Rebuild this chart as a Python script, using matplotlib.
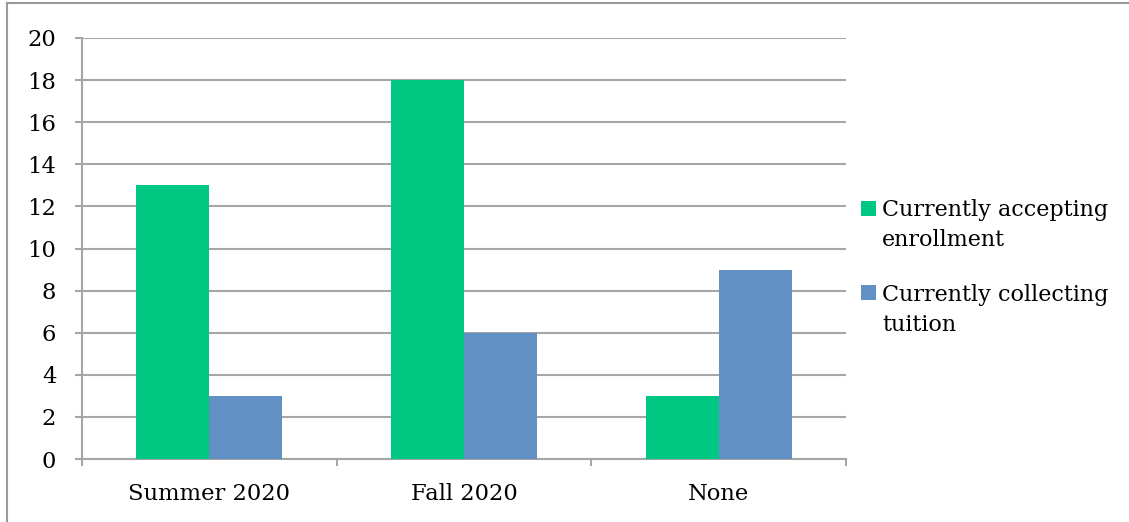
import matplotlib
matplotlib.use("Agg")
import matplotlib.pyplot as plt
from matplotlib.lines import Line2D
from matplotlib.patches import Rectangle
import numpy as np

categories = ["Summer 2020", "Fall 2020", "None"]
series_names = ["Currently accepting\nenrollment", "Currently collecting\ntuition"]
accepting = [13, 18, 3]
collecting = [3, 6, 9]
colors = ["#00C882", "#6191C4"]
grid_color = "#A6A6A6"

plt.rcParams['font.family'] = ['DejaVu Serif']
fs = 16.3

W, H = 1129, 522
fig = plt.figure(figsize=(W/100, H/100), dpi=100)
ax = fig.add_axes([82/W, 1-459/H, (846-82)/W, (459-38)/H])

x = np.arange(len(categories))
w = 0.287
ax.bar(x - w/2, accepting, w, color=colors[0], zorder=3, label=series_names[0])
ax.bar(x + w/2, collecting, w, color=colors[1], zorder=3, label=series_names[1])

ax.set_xlim(-0.5, 2.5)
ax.set_ylim(0, 20)
ax.set_yticks(range(0, 21, 2))
ax.yaxis.grid(True, color=grid_color, linewidth=1.5, zorder=0)
ax.set_axisbelow(True)

for s in ["top", "right"]:
    ax.spines[s].set_visible(False)
for s in ["left", "bottom"]:
    ax.spines[s].set_color(grid_color)
    ax.spines[s].set_linewidth(1.5)

ax.set_xticks([-0.5, 0.5, 1.5, 2.5])
ax.set_xticklabels([])
ax.set_xticks(x, minor=True)
ax.set_xticklabels(categories, minor=True, fontsize=fs)
ax.tick_params(axis="x", which="major", length=5, width=1.5, color=grid_color, direction="out")
ax.tick_params(axis="x", which="minor", length=0, pad=17)
ax.tick_params(axis="y", length=5, width=1.5, color=grid_color, labelsize=fs, pad=13.5)

# legend (drawn manually so swatches align with first line of each label)
legend_rows = [(201, 225), (285, 310)]  # (swatch top px, label centre px)
for (sw_top, lab_c), name, col in zip(legend_rows, series_names, colors):
    fig.add_artist(Rectangle((861/W, 1-(sw_top+15)/H), 15/W, 15/H,
                             facecolor=col, edgecolor="none", transform=fig.transFigure))
    fig.text(882/W, 1-lab_c/H, name, fontsize=16, va="center", ha="left",
             linespacing=1.46)

# figure border (top and left)
fig.add_artist(Line2D([7/W, 7/W], [0, 1-3/H], color="#9A9A9A", linewidth=1.5))
fig.add_artist(Line2D([7/W, 1], [1-3/H, 1-3/H], color="#9A9A9A", linewidth=1.5))

fig.savefig("out.png", dpi=100)
